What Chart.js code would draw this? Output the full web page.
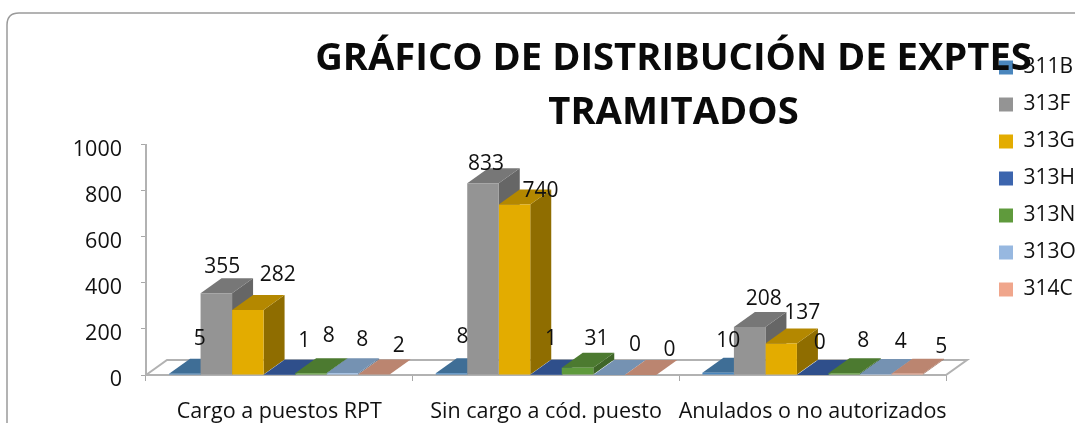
<!DOCTYPE html>
<html><head><meta charset="utf-8">
<style>html,body{margin:0;padding:0;background:#fff}canvas{display:block}</style>
<script src="https://cdn.jsdelivr.net/npm/chart.js@4"></script>
</head><body><canvas id="c" width="1075" height="423"></canvas>
<script>
const categories = ["Cargo a puestos RPT", "Sin cargo a cód. puesto", "Anulados o no autorizados"];
const s311B = [5, 8, 10];
const s313F = [355, 833, 208];
const s313G = [282, 740, 137];
const s313H = [1, 1, 0];
const s313N = [8, 31, 8];
const s313O = [8, 0, 4];
const s314C = [2, 0, 5];
const yTicks = [0, 200, 400, 600, 800, 1000];
const titleLines = ["GRÁFICO DE DISTRIBUCIÓN DE EXPTES", "TRAMITADOS"];

const FONT = "'Open Sans', sans-serif";
const seriesDefs = [
  ["311B", s311B, "#4A86BD", "#3F6E96", "#38617F"],
  ["313F", s313F, "#949494", "#777777", "#666666"],
  ["313G", s313G, "#E3AC00", "#B48800", "#8F6D00"],
  ["313H", s313H, "#3C65AE", "#2F4F8B", "#284377"],
  ["313N", s313N, "#5F9A3C", "#4C7A30", "#3F6628"],
  ["313O", s313O, "#97B8E0", "#7592B2", "#647D99"],
  ["314C", s314C, "#F0A68C", "#BB8570", "#A07260"]
];
const DX = 21, DY = 15;
// label placement relative to each bar's top, per category then series
const nudge = [
  [[15,-35],[6,-26],[30,-35],[25,-34],[18,-37],[20,-33],[25,-29]],
  [[11,-36],[3,-19],[26,-14],[5,-36],[19,-29],[26,-30],[29,-25]],
  [[10,-32],[14,-28],[21,-30],[7,-32],[19,-32],[25,-32],[34,-27]]
];

const frame = {
  id: "frame",
  beforeDraw(chart) {
    const c = chart.ctx;
    c.save();
    c.fillStyle = "#fff";
    c.fillRect(0, 0, chart.width, chart.height);
    c.strokeStyle = "#9A9A9A";
    c.lineWidth = 1.5;
    c.beginPath();
    c.moveTo(7, 423);
    c.lineTo(7, 25);
    c.quadraticCurveTo(7, 13, 19, 13);
    c.lineTo(1075, 13);
    c.stroke();
    c.restore();
  }
};
const place = {
  id: "place",
  afterLayout(chart) {
    const t = chart.titleBlock;
    t.left = 315; t.right = 1032;
    const l = chart.legend;
    l.left = 983; l.right = 1075; l.top = 41; l.bottom = 423;
  }
};
const extrude = {
  id: "extrude",
  beforeDatasetsDraw(chart) {
    const c = chart.ctx, xs = chart.scales.x, ys = chart.scales.y;
    const y0 = ys.getPixelForValue(0);
    c.save();
    c.strokeStyle = "#B2B2B2";
    c.lineWidth = 2;
    c.beginPath();
    c.moveTo(xs.left, y0);
    c.lineTo(xs.left + DX, y0 - DY);
    c.lineTo(xs.right + DX, y0 - DY);
    c.lineTo(xs.right, y0);
    c.lineTo(xs.left, y0);
    c.stroke();
    chart.data.datasets.forEach((ds, di) => {
      chart.getDatasetMeta(di).data.forEach(el => {
        const L = el.x - el.width / 2, R = el.x + el.width / 2, T = el.y, B = el.base;
        c.fillStyle = ds.sideColor;
        c.beginPath();
        c.moveTo(R, T); c.lineTo(R + DX, T - DY); c.lineTo(R + DX, B - DY); c.lineTo(R, B);
        c.closePath(); c.fill();
        c.fillStyle = ds.topColor;
        c.beginPath();
        c.moveTo(L, T); c.lineTo(L + DX, T - DY); c.lineTo(R + DX, T - DY); c.lineTo(R, T);
        c.closePath(); c.fill();
      });
    });
    c.restore();
  },
  afterDatasetsDraw(chart) {
    const c = chart.ctx;
    c.save();
    c.font = "21px " + FONT;
    c.fillStyle = "#111";
    c.textAlign = "center";
    c.textBaseline = "middle";
    chart.data.datasets.forEach((ds, di) => {
      chart.getDatasetMeta(di).data.forEach((el, i) => {
        c.fillText(String(ds.data[i]), el.x + nudge[i][di][0], el.y + nudge[i][di][1]);
      });
    });
    c.restore();
  }
};

new Chart(document.getElementById("c"), {
  type: "bar",
  data: {
    labels: categories,
    datasets: seriesDefs.map(d => ({
      label: d[0], data: d[1], backgroundColor: d[2], topColor: d[3], sideColor: d[4],
      borderWidth: 0, barPercentage: 1, categoryPercentage: 0.827
    }))
  },
  options: {
    responsive: false,
    animation: false,
    layout: { padding: { left: 0, right: 129, top: 0, bottom: 0 } },
    plugins: {
      tooltip: { enabled: false },
      title: {
        display: true,
        text: titleLines,
        color: "#0A0A0A",
        font: { family: FONT, size: 38.2, weight: "bold", lineHeight: 1.41 },
        padding: { top: 32, bottom: 5 }
      },
      legend: {
        position: "chartArea",
        align: "start",
        labels: {
          boxWidth: 14, boxHeight: 14, padding: 16, color: "#111",
          font: { family: FONT, size: 21 }
        }
      }
    },
    scales: {
      x: {
        afterFit(s) { s.height = 48; },
        grid: { drawOnChartArea: false, offset: true, tickLength: 6, color: "#A8A8A8" },
        border: { color: "#B2B2B2", width: 2 },
        ticks: { color: "#111", font: { family: FONT, size: 21.5 }, padding: 18, maxRotation: 0, autoSkip: false }
      },
      y: {
        min: 0, max: 1000,
        afterFit(s) { s.width = 146; },
        afterBuildTicks(s) { s.ticks = yTicks.map(v => ({ value: v })); },
        grid: { drawOnChartArea: false, tickLength: 5, color: "#A8A8A8" },
        border: { color: "#B2B2B2", width: 2 },
        ticks: { color: "#111", font: { family: FONT, size: 21.5 }, padding: 19, labelOffset: 5, callback: v => String(v) }
      }
    }
  },
  plugins: [frame, place, extrude]
});
</script></body></html>
